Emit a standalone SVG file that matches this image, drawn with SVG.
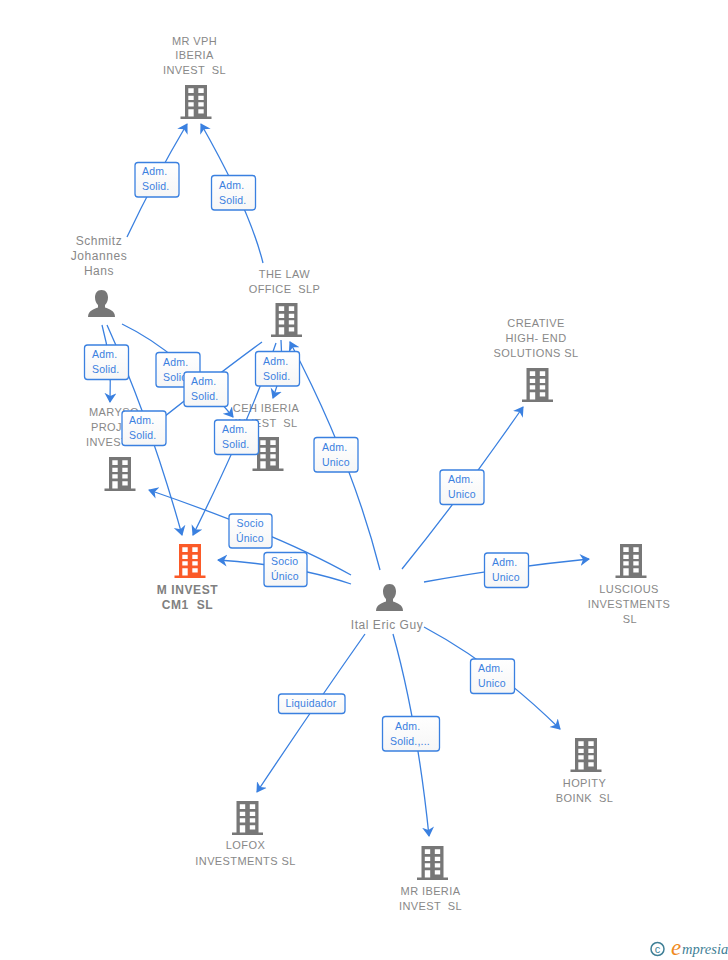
<svg xmlns="http://www.w3.org/2000/svg" width="728" height="960" viewBox="0 0 728 960">
<style>
text{font-family:"Liberation Sans",Arial,sans-serif;white-space:pre}
.n{font-size:11px;fill:#888;text-anchor:middle;letter-spacing:.4px}
.s{font-size:11px;fill:#888;letter-spacing:.4px}
.p{font-size:12px;fill:#888;text-anchor:middle;letter-spacing:.55px}
.b{font-weight:bold;font-size:12px;fill:#808080;letter-spacing:.6px}
.l{font-size:10.5px;fill:#3a80e0;letter-spacing:.2px}
.c path{fill:none;stroke:#3a80e0;stroke-width:1.3}
.a{marker-end:url(#arrow)}
.x rect{fill:url(#bg);stroke:#3a80e0;stroke-width:1.3}
</style>
<defs>
<linearGradient id="bg" x1="0" y1="0" x2="0" y2="1"><stop offset="0" stop-color="#fff"/><stop offset="1" stop-color="#f6f6f6"/></linearGradient>
<marker id="arrow" markerUnits="userSpaceOnUse" markerWidth="14" markerHeight="14" refX="9" refY="6" orient="auto"><path d="M0 0 L10 6 L0 12 L3 6Z" fill="#3a80e0"/></marker>
<g id="bld">
<path fill-rule="evenodd" d="M0 0H22V31.500H26.500V34H-4.500V31.500H0ZM3.300 3.300V8H8.700V3.300ZM13.300 3.300V8H18.700V3.300ZM3.300 10.700V15H8.700V10.700ZM13.300 10.700V15H18.700V10.700ZM3.300 17.300V21.500H8.700V17.300ZM13.300 17.300V21.500H18.700V17.300ZM3.300 24.300V31.500H8.700V24.300ZM13.300 24.300V28.500H18.700V24.300Z"/>
</g>
<path id="per" d="M13.500 0C18 0 20 3.500 20 7.500C20 11 18.500 13.500 17 15V17.500C21 19 27 20.500 27 27H0C0 20.500 6 19 10 17.500V15C8.500 13.500 7 11 7 7.500C7 3.500 9 0 13.500 0Z"/>
</defs>
<rect width="728" height="960" fill="#fff"/>
<g id="n-mrvph"><text class="n"><tspan x="194.500" y="45">MR VPH</tspan><tspan x="194.500" y="59">IBERIA</tspan><tspan x="194.500" y="74">INVEST  SL</tspan></text><use href="#bld" x="185" y="85" fill="#777"/></g>
<g id="n-schmitz"><text class="p"><tspan x="99" y="245">Schmitz</tspan><tspan x="99" y="260">Johannes</tspan><tspan x="99" y="275">Hans</tspan></text><use href="#per" x="88" y="290" fill="#777"/></g>
<g id="n-law"><text class="n"><tspan x="284.500" y="278">THE LAW</tspan><tspan x="284.500" y="293">OFFICE  SLP</tspan></text><use href="#bld" x="275.500" y="303" fill="#777"/></g>
<g id="n-maryso"><text class="s"><tspan x="89" y="416">MARYSO</tspan><tspan x="91" y="431">PROJ</tspan><tspan x="86" y="446">INVEST</tspan></text><use href="#bld" x="109" y="457" fill="#777"/></g>
<g id="n-ceh"><text class="n"><tspan x="266" y="412">CEH IBERIA</tspan><tspan x="266" y="427">INVEST  SL</tspan></text><use href="#bld" x="257" y="437" fill="#777"/></g>
<g id="n-minvest"><use href="#bld" x="179" y="544" fill="#fb5a28"/><text class="b" text-anchor="middle"><tspan x="187.500" y="594">M INVEST</tspan><tspan x="187.500" y="609">CM1  SL</tspan></text></g>
<g id="n-creative"><text class="n"><tspan x="536" y="327">CREATIVE</tspan><tspan x="536" y="342">HIGH- END</tspan><tspan x="536" y="357">SOLUTIONS SL</tspan></text><use href="#bld" x="526.500" y="368" fill="#777"/></g>
<g id="n-luscious"><use href="#bld" x="620" y="544" fill="#777"/><text class="n"><tspan x="629" y="593">LUSCIOUS</tspan><tspan x="629" y="608">INVESTMENTS</tspan><tspan x="630" y="623">SL</tspan></text></g>
<g id="n-hopity"><use href="#bld" x="575" y="738" fill="#777"/><text class="n"><tspan x="584.500" y="787">HOPITY</tspan><tspan x="584.500" y="802">BOINK  SL</tspan></text></g>
<g id="n-lofox"><use href="#bld" x="236.500" y="801" fill="#777"/><text class="n"><tspan x="245.500" y="849">LOFOX</tspan><tspan x="245.500" y="865">INVESTMENTS SL</tspan></text></g>
<g id="n-mriberia"><use href="#bld" x="421.500" y="846" fill="#777"/><text class="n"><tspan x="430.500" y="895">MR IBERIA</tspan><tspan x="430.500" y="910">INVEST  SL</tspan></text></g>
<g id="n-ital"><use href="#per" x="376" y="584" fill="#777"/><text class="p" x="387" y="629">Ital Eric Guy</text></g>
<g id="connectors" class="c">
<path class="a" d="M127 237Q155 178 187 124"/>
<path class="a" d="M263 263Q250 210 201 124"/>
<path class="a" d="M102 325Q112 360 110 402"/>
<path class="a" d="M107 325Q150 420 182 535"/>
<path class="a" d="M122 324Q180 352 233 417"/>
<path class="a" d="M262 342Q210 380 135 440"/>
<path class="a" d="M281 340Q284 370 273 398"/>
<path class="a" d="M276 343Q250 420 193 535"/>
<path class="a" d="M380 570Q352 460 290 342"/>
<path class="a" d="M351 575Q280 535 149 490"/>
<path class="a" d="M351 584Q295 565 218 560"/>
<path class="a" d="M402 569Q462 495 523 407"/>
<path class="a" d="M424 582Q500 568 589 559"/>
<path class="a" d="M424 627Q495 665 560 729"/>
<path class="a" d="M393 634Q417 720 429 836"/>
<path class="a" d="M365 634Q315 705 257 792"/>
</g>
<g id="labels" class="x">
<g><rect x="135" y="162.500" width="44" height="34.500" rx="3"/><text class="l"><tspan x="142" y="175">Adm.</tspan><tspan x="142" y="190">Solid.</tspan></text></g>
<g><rect x="211.500" y="175.500" width="44" height="34.500" rx="3"/><text class="l"><tspan x="219" y="189">Adm.</tspan><tspan x="219" y="204">Solid.</tspan></text></g>
<g><rect x="84.500" y="345" width="44" height="34.500" rx="3"/><text class="l"><tspan x="92" y="358">Adm.</tspan><tspan x="92" y="373">Solid.</tspan></text></g>
<g><rect x="156" y="352.500" width="44" height="34.500" rx="3"/><text class="l"><tspan x="163" y="366">Adm.</tspan><tspan x="163" y="381">Solid.</tspan></text></g>
<g><rect x="184" y="372" width="44" height="34.500" rx="3"/><text class="l"><tspan x="191" y="385">Adm.</tspan><tspan x="191" y="400">Solid.</tspan></text></g>
<g><rect x="122" y="411" width="44" height="34.500" rx="3"/><text class="l"><tspan x="129" y="424">Adm.</tspan><tspan x="129" y="439">Solid.</tspan></text></g>
<g><rect x="255.500" y="351.500" width="44" height="34.500" rx="3"/><text class="l"><tspan x="263" y="365">Adm.</tspan><tspan x="263" y="380">Solid.</tspan></text></g>
<g><rect x="214.500" y="420" width="44" height="34.500" rx="3"/><text class="l"><tspan x="222" y="433">Adm.</tspan><tspan x="222" y="448">Solid.</tspan></text></g>
<g><rect x="314" y="437.500" width="44" height="34.500" rx="3"/><text class="l"><tspan x="322" y="451">Adm.</tspan><tspan x="322" y="466">Unico</tspan></text></g>
<g><rect x="440" y="470" width="44" height="34.500" rx="3"/><text class="l"><tspan x="448" y="483">Adm.</tspan><tspan x="448" y="498">Unico</tspan></text></g>
<g><rect x="484.500" y="553" width="44" height="34.500" rx="3"/><text class="l"><tspan x="492" y="566">Adm.</tspan><tspan x="492" y="581">Unico</tspan></text></g>
<g><rect x="470.500" y="659" width="44" height="34.500" rx="3"/><text class="l"><tspan x="478" y="672">Adm.</tspan><tspan x="478" y="687">Unico</tspan></text></g>
<g><rect x="229" y="514" width="43" height="34" rx="3"/><text class="l"><tspan x="236.500" y="527">Socio</tspan><tspan x="236" y="542">Único</tspan></text></g>
<g><rect x="264" y="552.500" width="43" height="34" rx="3"/><text class="l"><tspan x="271" y="565">Socio</tspan><tspan x="271" y="580">Único</tspan></text></g>
<g><rect x="278.500" y="694" width="66.500" height="19.500" rx="3"/><text class="l" x="285.500" y="707">Liquidador</text></g>
<g><rect x="382.500" y="716.500" width="57" height="34.500" rx="3"/><text class="l"><tspan x="395" y="730">Adm.</tspan><tspan x="390" y="745">Solid.,...</tspan></text></g>
</g>
<g id="logo">
<circle cx="657.500" cy="949" r="6.500" fill="none" stroke="#3f7f96" stroke-width="1.500"/>
<text x="657.500" y="952.500" font-size="11" fill="#3f7f96" text-anchor="middle">c</text>
<text x="671" y="955" font-size="23" font-style="italic" fill="#f08a1d" style="font-family:'Liberation Serif',serif">e</text>
<text x="682" y="954" font-size="14.500" font-style="italic" fill="#3f7f96" style="font-family:'Liberation Serif',serif">mpresia</text>
</g>
</svg>
